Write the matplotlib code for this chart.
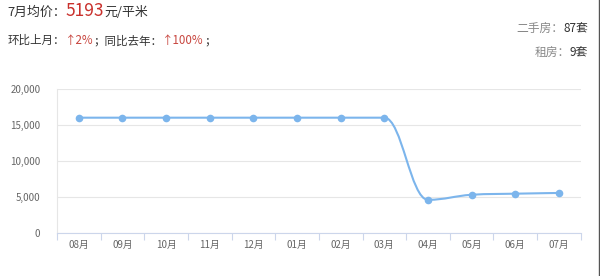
#!/usr/bin/env python3
# Monthly average price line chart (Highcharts-like spline) with header summary

import matplotlib
matplotlib.use("Agg")
import matplotlib.pyplot as plt
from matplotlib.path import Path
from matplotlib.patches import PathPatch
from matplotlib.ticker import FuncFormatter

plt.rcParams["font.family"] = ["Noto Sans CJK SC", "DejaVu Sans"]

months = ["08月", "09月", "10月", "11月", "12月", "01月", "02月", "03月",
          "04月", "05月", "06月", "07月"]
prices = [16000, 16000, 16000, 16000, 16000, 16000, 16000, 16000,
          4600, 5300, 5450, 5550]
y_ticks = [0, 5000, 10000, 15000, 20000]

LINE = "#7cb5ec"
RED = "#c9302c"
PCT = "#c8463f"
DARK = "#333333"
GRAY = "#888888"


def spline_path(xs, ys, smoothing=1.5):
    # Highcharts style spline control points, clamped to avoid false extremes
    n = len(xs)
    left = [None] * n
    right = [None] * n
    denom = smoothing + 1
    for i in range(1, n - 1):
        px, py = xs[i], ys[i]
        lx, ly = xs[i - 1], ys[i - 1]
        nx, ny = xs[i + 1], ys[i + 1]
        lcx = (smoothing * px + lx) / denom
        lcy = (smoothing * py + ly) / denom
        rcx = (smoothing * px + nx) / denom
        rcy = (smoothing * py + ny) / denom
        if rcy != lcy:
            corr = (rcy - lcy) * (rcx - px) / (rcx - lcx) + py - rcy
            lcy += corr
            rcy += corr
        if lcy > ly and lcy > py:
            lcy = max(ly, py)
            rcy = 2 * py - lcy
        elif lcy < ly and lcy < py:
            lcy = min(ly, py)
            rcy = 2 * py - lcy
        if rcy > ny and rcy > py:
            rcy = max(ny, py)
            lcy = 2 * py - rcy
        elif rcy < ny and rcy < py:
            rcy = min(ny, py)
            lcy = 2 * py - rcy
        left[i] = (lcx, lcy)
        right[i] = (rcx, rcy)

    verts = [(xs[0], ys[0])]
    codes = [Path.MOVETO]
    for i in range(1, n):
        c1 = right[i - 1] or (xs[i - 1], ys[i - 1])
        c2 = left[i] or (xs[i], ys[i])
        verts += [c1, c2, (xs[i], ys[i])]
        codes += [Path.CURVE4] * 3
    return Path(verts, codes)


def place_runs(fig, x, y, runs, ha="left"):
    # lay out (text, size, colour) runs on one baseline, measured in pixels
    renderer = fig.canvas.get_renderer()
    w_fig = fig.bbox.width
    items = []
    for s, size, color in runs:
        t = fig.text(0, y, s, fontsize=size, color=color, va="baseline")
        w = t.get_window_extent(renderer).width / w_fig
        items.append((t, w))
    total = sum(w for _, w in items)
    cur = x if ha == "left" else x - total
    for t, w in items:
        t.set_x(cur)
        cur += w


def main() -> None:
    fig = plt.figure(figsize=(6.0, 2.76), dpi=100)
    fig.patch.set_facecolor("white")
    ax = fig.add_axes([0.095, 0.156, 0.873, 0.522])

    xs = list(range(len(months)))
    ax.add_patch(PathPatch(spline_path(xs, prices), facecolor="none",
                           edgecolor=LINE, linewidth=1.5, zorder=3))
    ax.plot(xs, prices, linestyle="none", marker="o", markersize=5.5,
            color=LINE, markeredgewidth=0, zorder=4)

    ax.set_xlim(-0.5, len(months) - 0.5)
    ax.set_ylim(0, 20000)
    ax.set_yticks(y_ticks)
    ax.yaxis.set_major_formatter(FuncFormatter(lambda v, _: f"{int(v):,}"))
    ax.set_xticks(xs)
    ax.set_xticklabels(months)
    ax.set_xticks([x - 0.5 for x in range(len(months) + 1)], minor=True)

    ax.grid(axis="y", color="#e6e6e6", linewidth=0.8)
    ax.set_axisbelow(True)
    for side in ("top", "right"):
        ax.spines[side].set_visible(False)
    ax.spines["left"].set_color("#e6e6e6")
    ax.spines["left"].set_linewidth(0.8)
    ax.spines["bottom"].set_color("#ccd6eb")
    ax.spines["bottom"].set_linewidth(0.8)

    ax.tick_params(axis="y", length=0, pad=12, labelsize=7, labelcolor="#666666")
    ax.tick_params(axis="x", which="major", length=0, pad=5, labelsize=7,
                   labelcolor="#666666")
    ax.tick_params(axis="x", which="minor", length=5, color="#ccd6eb", width=0.8)

    # header summary
    place_runs(fig, 0.012, 0.942, [("7月均价：", 9.3, DARK),
                                   ("5193", 12.5, RED),
                                   ("元/平米", 9.3, DARK)])
    place_runs(fig, 0.012, 0.84, [("环比上月：", 8.3, DARK),
                                  ("↑2%", 8.3, PCT),
                                  ("；同比去年：", 8.3, DARK),
                                  ("↑100%", 8.3, PCT),
                                  ("；", 8.3, DARK)])
    place_runs(fig, 0.98, 0.884, [("二手房：", 8.5, GRAY), ("87套", 8.5, DARK)],
               ha="right")
    place_runs(fig, 0.98, 0.797, [("租房：", 8.5, GRAY), ("9套", 8.5, DARK)],
               ha="right")

    # right page border
    fig.add_artist(plt.Line2D([0.998, 0.998], [0, 1], color="#555555",
                              linewidth=1.0, transform=fig.transFigure))

    fig.savefig("out.png", dpi=100, facecolor="white")
    plt.close(fig)


if __name__ == "__main__":
    main()
